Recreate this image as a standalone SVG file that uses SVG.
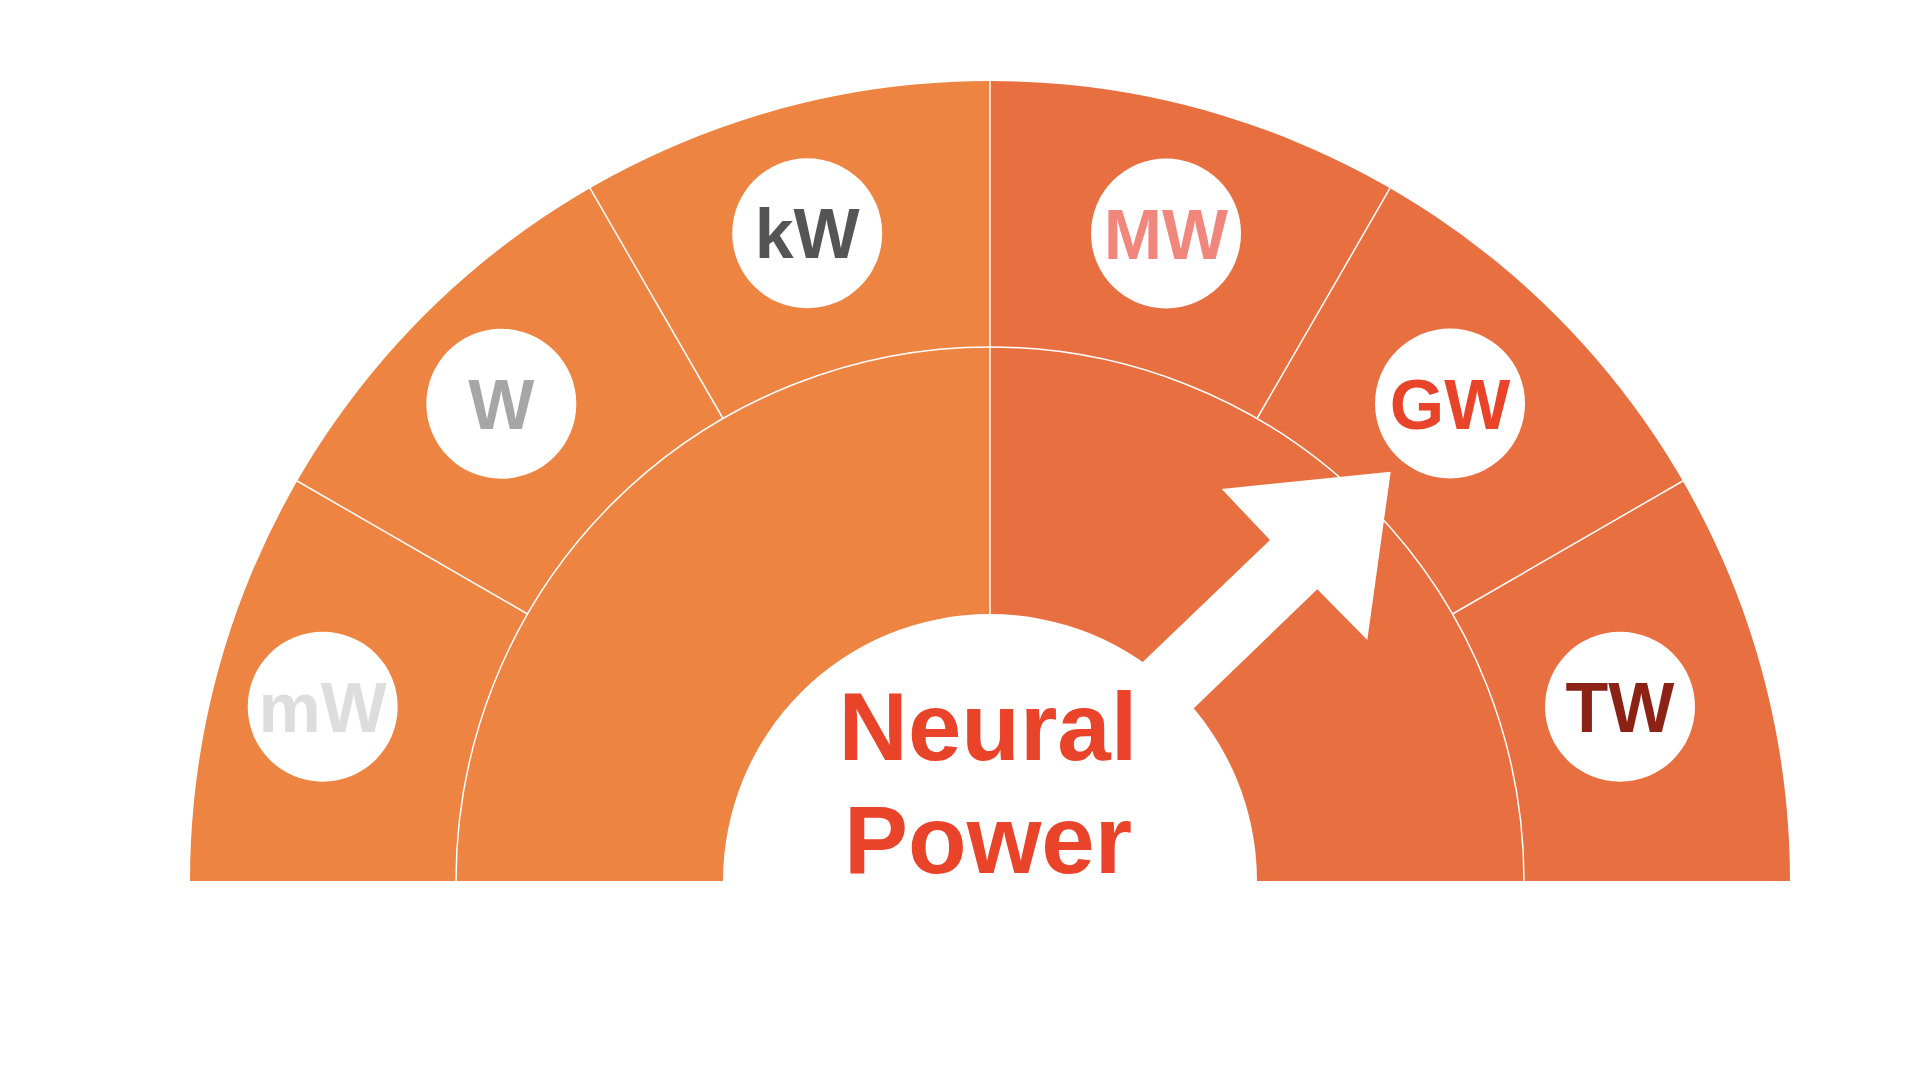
<svg xmlns="http://www.w3.org/2000/svg" width="1919" height="1080" viewBox="0 0 1919 1080">
<style>
.left{fill:#ED8442}
.right{fill:#E86F40}
.div{stroke:#FFFFFF;stroke-width:1.5;fill:none}
.node circle{fill:#FFFFFF}
.lbl{font-family:"Liberation Sans",Arial,sans-serif;font-weight:bold;font-size:70px;text-anchor:middle}
.title{font-family:"Liberation Sans",Arial,sans-serif;font-weight:bold;font-size:96px;text-anchor:middle;fill:#E9432A}
</style>
<rect width="1919" height="1080" fill="#FFFFFF"/>
<g id="gauge">
<path class="left" d="M190 881 A800 800 0 0 1 990 81 L990 614 A267 267 0 0 0 723 881 Z"/>
<path class="right" d="M990 81 A800 800 0 0 1 1790 881 L1257 881 A267 267 0 0 0 990 614 Z"/>
</g>
<g id="connectors">
<path class="div" d="M456 881 A534 534 0 0 1 1524 881"/>
<line class="div" x1="990" y1="81" x2="990" y2="614"/>
<line class="div" x1="527.5" y1="614" x2="297.2" y2="481"/>
<line class="div" x1="723" y1="418.5" x2="590" y2="188.2"/>
<line class="div" x1="1257" y1="418.5" x2="1390" y2="188.2"/>
<line class="div" x1="1452.5" y1="614" x2="1682.8" y2="481"/>
</g>
<g id="arrow">
<polygon fill="#FFFFFF" points="1390.7,471.7 1367.3,640 1317.3,589.3 1030,866 981,817 1270,540 1221.7,489"/>
</g>
<g id="node-mW" class="node"><circle cx="322.7" cy="706.7" r="75"/><text class="lbl" x="322.7" y="731.7" fill="#DDDDDD">mW</text></g>
<g id="node-W" class="node"><circle cx="501.3" cy="403.8" r="75"/><text class="lbl" x="501.3" y="428.8" fill="#A6A6A6">W</text></g>
<g id="node-kW" class="node"><circle cx="807.2" cy="233.3" r="75"/><text class="lbl" x="807.2" y="258.3" fill="#555555">kW</text></g>
<g id="node-MW" class="node"><circle cx="1166" cy="233.5" r="75"/><text class="lbl" x="1166" y="258.5" fill="#F0867C">MW</text></g>
<g id="node-GW" class="node"><circle cx="1450" cy="403.5" r="75"/><text class="lbl" x="1450" y="428.5" fill="#E9432A">GW</text></g>
<g id="node-TW" class="node"><circle cx="1620" cy="706.7" r="75"/><text class="lbl" x="1620" y="731.7" fill="#8B2215">TW</text></g>
<g id="title">
<text class="title" x="988" y="760">Neural</text>
<text class="title" x="988" y="873">Power</text>
</g>
</svg>
